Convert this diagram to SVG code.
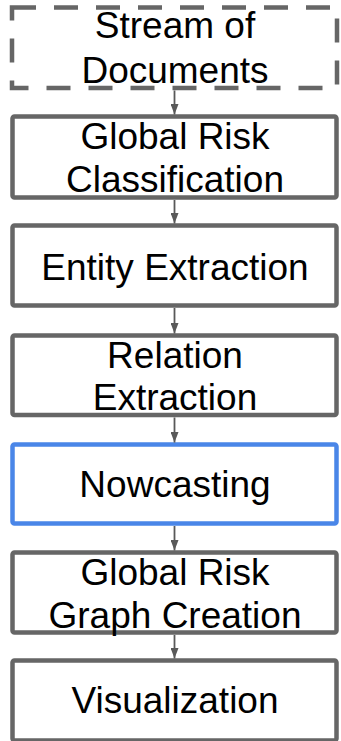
<svg xmlns="http://www.w3.org/2000/svg" width="341" height="741" viewBox="0 0 341 741">
  <defs>
    <style>
      .box { fill: #ffffff; stroke: #666666; stroke-width: 4.5; }
      .dashed { stroke-dasharray: 24 18; }
      .blue { stroke: #4a86e8; }
      .label { font-family: "Liberation Sans", Arial, sans-serif; font-size: 37px; fill: #000000; text-anchor: middle; }
      .link { stroke: #595959; stroke-width: 1.8; fill: none; marker-end: url(#arrow); }
    </style>
    <!-- arrowhead drawn along +x so orient="auto" turns it with the line -->
    <marker id="arrow" markerUnits="userSpaceOnUse" markerWidth="11" markerHeight="8" viewBox="0 0 10.5 8" refX="10.5" refY="4" orient="auto">
      <path d="M0,0 L10.5,4 L0,8 Z" fill="#595959"/>
    </marker>
  </defs>

  <rect width="341" height="741" fill="#ffffff"/>

  <!-- pipeline stages -->
  <g id="stream-of-documents">
    <rect class="box dashed" x="12" y="7.5" width="325" height="80.5"/>
    <text class="label" x="175" y="38">Stream of</text>
    <text class="label" x="175" y="83">Documents</text>
  </g>

  <g id="global-risk-classification">
    <rect class="box" x="12.5" y="116.5" width="324" height="81" rx="2"/>
    <text class="label" x="175" y="149">Global Risk</text>
    <text class="label" x="175" y="192">Classification</text>
  </g>

  <g id="entity-extraction">
    <rect class="box" x="12.5" y="225.5" width="324" height="80" rx="2"/>
    <text class="label" x="175" y="280">Entity Extraction</text>
  </g>

  <g id="relation-extraction">
    <rect class="box" x="12.5" y="335.5" width="324" height="79.5" rx="2"/>
    <text class="label" x="175" y="368">Relation</text>
    <text class="label" x="175" y="410">Extraction</text>
  </g>

  <g id="nowcasting">
    <rect class="box blue" x="12.5" y="444.5" width="324" height="79" rx="2"/>
    <text class="label" x="175" y="497">Nowcasting</text>
  </g>

  <g id="global-risk-graph-creation">
    <rect class="box" x="12.5" y="552.5" width="324" height="80" rx="2"/>
    <text class="label" x="175" y="585">Global Risk</text>
    <text class="label" x="175" y="628">Graph Creation</text>
  </g>

  <g id="visualization">
    <rect class="box" x="12.5" y="660.5" width="324" height="80" rx="2"/>
    <text class="label" x="175" y="713">Visualization</text>
  </g>

  <!-- connectors between consecutive stages -->
  <g id="connectors">
    <path class="link" d="M174.5,90.5 L174.5,114.5"/>
    <path class="link" d="M174.5,200 L174.5,223.5"/>
    <path class="link" d="M174.5,308 L174.5,333.5"/>
    <path class="link" d="M174.5,417.5 L174.5,442.5"/>
    <path class="link" d="M174.5,526 L174.5,550.5"/>
    <path class="link" d="M174.5,635 L174.5,658.5"/>
  </g>
</svg>
